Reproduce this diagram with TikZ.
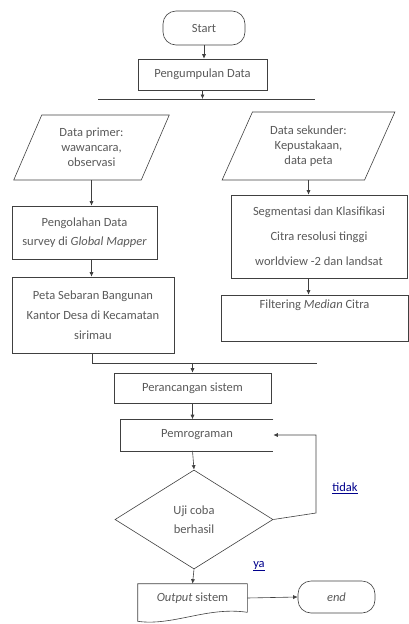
\documentclass[tikz,border=0pt]{standalone}
\usepackage{fontspec}
\setmainfont{Carlito}
\usetikzlibrary{arrows.meta, shapes.geometric, calc, positioning}

\begin{document}
\begin{tikzpicture}[x=1pt, y=-1pt,
  line width=0.6pt, draw=black!75,
  font=\fontsize{12.5}{15}\selectfont, text=black!65,
  box/.style={draw, rectangle, inner sep=0pt, align=center},
  term/.style={draw, rectangle, rounded corners=13pt, inner sep=0pt},
  datain/.style={draw, trapezium, trapezium stretches=true, inner sep=0pt, align=center},
  decide/.style={draw, diamond, inner sep=0pt, align=center},
  flow/.style={-{Latex[length=4.5pt,width=4pt]}},
  answer/.style={text=blue!55!black}
]
  \useasboundingbox (0,0) rectangle (409,624);
  % Start and data collection
  \node[term, minimum width=82, minimum height=34] (start) at (204,28) {Start};
  \node[box, minimum width=129, minimum height=31] (kumpul) at (202.5,74.5) {Pengumpulan Data};
  \coordinate (splitL) at (98,99);
  \coordinate (splitR) at (315,99);
  \draw (splitL) -- (splitR);
  \draw[flow] (start) -- (start |- kumpul.north);
  \draw[flow] (kumpul) -- (kumpul |- splitL);
  % Left branch: primary data
  \node[datain, minimum width=157, minimum height=65,
        trapezium left angle=65, trapezium right angle=115] (primer) at (91.5,147.5)
        {Data primer:\\wawancara,\\observasi};
  \node[box, minimum width=145, minimum height=53] (olah) at (84.5,232.5)
        {Pengolahan Data\\[4pt]survey di \textit{Global Mapper}};
  \node[box, minimum width=162, minimum height=76] (peta) at (93,315)
        {Peta Sebaran Bangunan\\[5pt]Kantor Desa di Kecamatan\\[5pt]sirimau};
  \draw[flow] (primer.south) -- (primer.south |- olah.north);
  \draw[flow] (primer.south |- olah.south) -- (primer.south |- peta.north);
  % Right branch: secondary data
  \node[datain, minimum width=173, minimum height=68,
        trapezium left angle=63, trapezium right angle=117] (sekunder) at (308.5,146)
        {Data sekunder:\\Kepustakaan,\\data peta};
  \node[box, minimum width=176, minimum height=83] (segmen) at (319,236.5)
        {Segmentasi dan Klasifikasi\\[10pt]Citra resolusi tinggi\\[10pt]worldview -2 dan landsat};
  \node[box, minimum width=187, minimum height=46, text depth=28pt] (filter) at (314.5,318)
        {Filtering \textit{Median} Citra};
  \draw[flow] (sekunder.south) -- (sekunder.south |- segmen.north);
  \draw[flow] (sekunder.south |- segmen.south) -- (sekunder.south |- filter.north);
  % Merge
  \coordinate (mergeL) at (92,363);
  \coordinate (mergeR) at (317,363);
  \draw (peta.south -| mergeL) -- (mergeL) -- (mergeR);
  % System design and programming
  \node[box, minimum width=157, minimum height=30] (rancang) at (192.5,388) {Perancangan sistem};
  \node[inner sep=0pt, minimum width=152, minimum height=31] (program) at (197,435) {Pemrograman};
  \draw (program.north east) -- (program.north west) -- (program.south west) -- (program.south east);
  \draw[flow] (rancang |- mergeL) -- (rancang.north);
  \draw[flow] (rancang.south) -- (rancang.south |- program.north);
  % Test decision
  \node[decide, minimum width=158, minimum height=99] (uji) at (194,519.5) {Uji coba\\[4pt]berhasil};
  \draw[flow] (rancang.south |- program.south) -- (uji.north);
  \coordinate (loop) at (316,513);
  \draw[flow] (uji.east) -- (loop) |- (program.east);
  \node[answer] (tidak) at (345,488) {\underline{tidak}};
  \node[answer] (ya) at (259,566) {\underline{ya}};
  % Output and end
  \node[inner sep=0pt, minimum width=109, minimum height=28] (output) at (192.5,598) {\textit{Output} sistem};
  \draw (output.south east) -- (output.north east) -- (output.north west) -- ($(output.south west)+(0,9)$)
        .. controls ($(output.south west)+(35,14)$) and ($(output.south east)+(-40,-6)$) .. (output.south east);
  \node[term, minimum width=77, minimum height=32] (end) at (336.5,597) {\textit{end}};
  \draw[flow] (uji.south) -- (output.north);
  \draw[flow] (output.east) -- (end.west);
\end{tikzpicture}
\end{document}
